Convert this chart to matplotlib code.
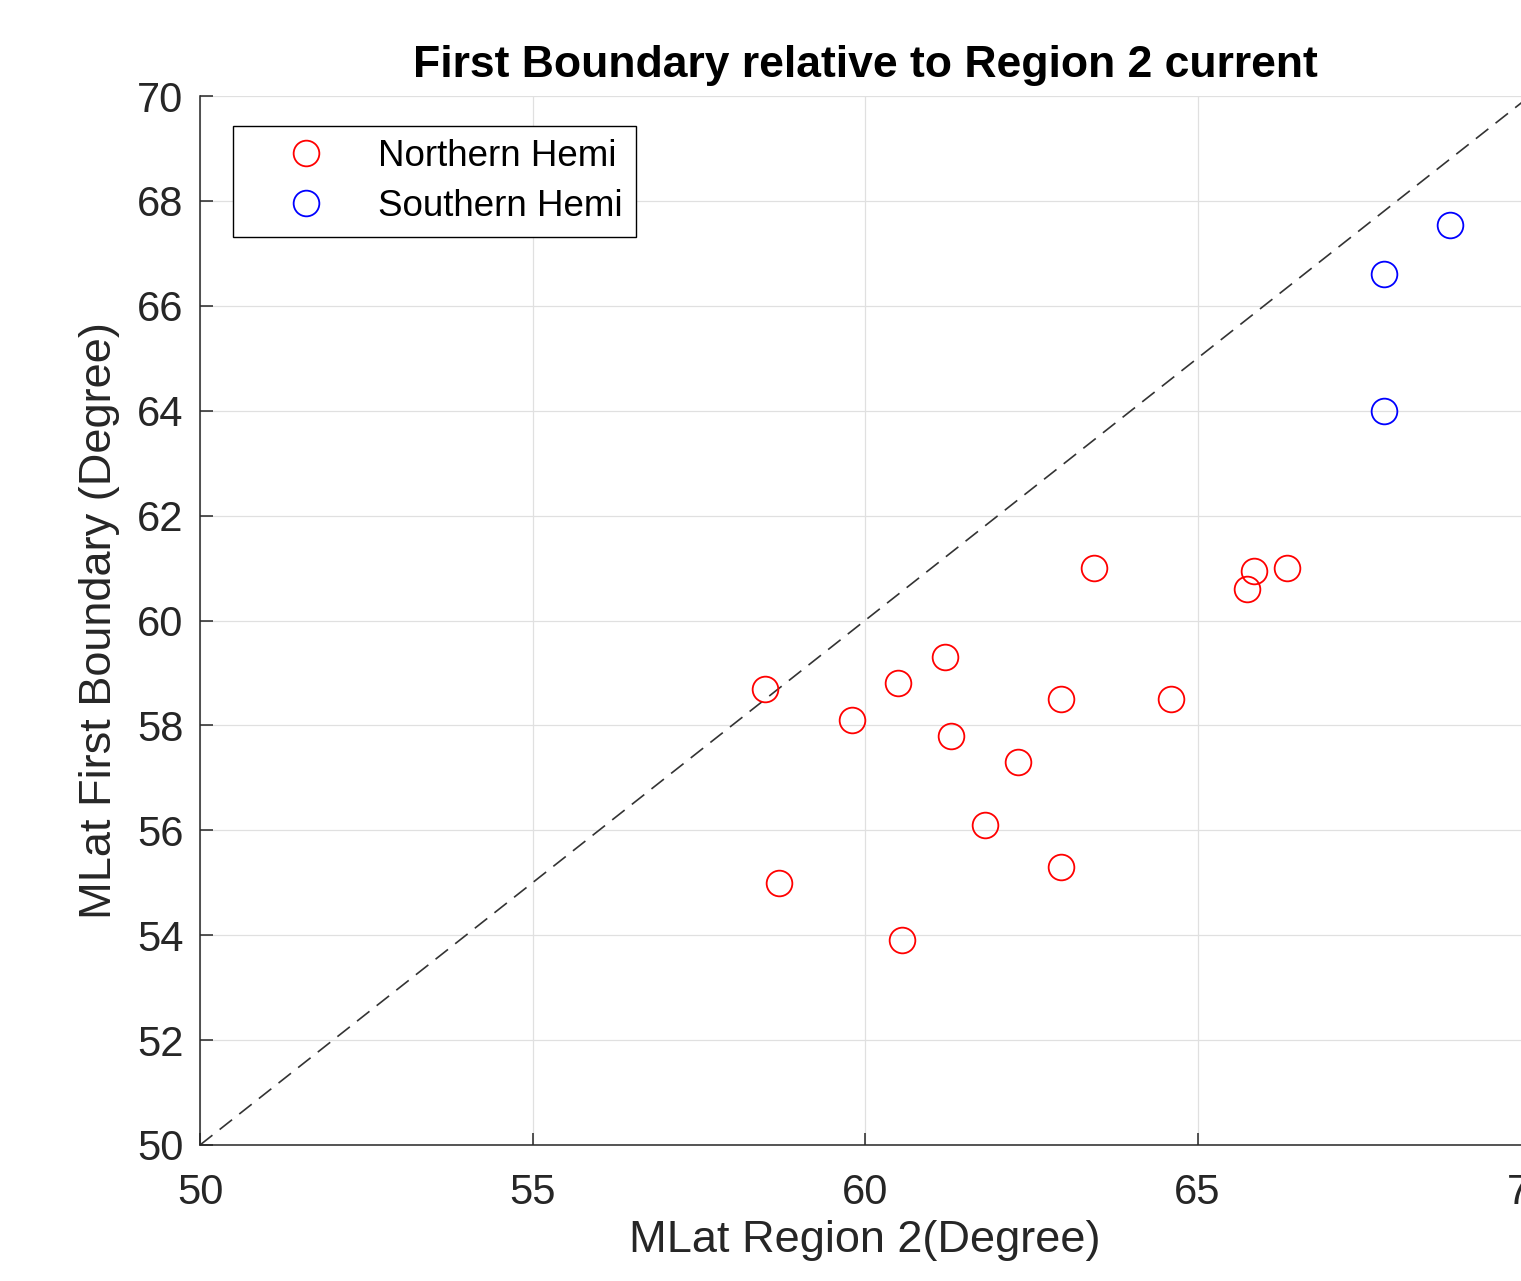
import numpy as np
import matplotlib.pyplot as plt
from matplotlib.lines import Line2D

plt.rcParams['font.family'] = ['Liberation Sans', 'DejaVu Sans']

# data
north_r2 = [58.5, 59.8, 60.5, 61.2, 61.3, 62.3, 61.8, 62.95, 62.95, 63.45,
            64.6, 65.75, 65.85, 66.35, 58.7, 60.55]
north_fb = [58.7, 58.1, 58.8, 59.3, 57.8, 57.3, 56.1, 58.5, 55.3, 61.0,
            58.5, 60.6, 60.95, 61.0, 55.0, 53.9]
south_r2 = [67.8, 67.8, 68.8]
south_fb = [66.6, 64.0, 67.55]

x_ticks = [50, 55, 60, 65, 70]
y_ticks = list(range(50, 71, 2))

AX_COL = "#262626"

fig = plt.figure(figsize=(15.21, 12.81), dpi=100, facecolor="white")
W, H = 1521, 1281
ax = fig.add_axes([200 / W, (H - 1145) / H, 1330 / W, 1049 / H])

ax.plot([50, 70], [50, 70], ls=(0, (9.5, 5.5)), color="#333333", lw=1.2, zorder=2)
ax.plot(north_r2, north_fb, ls="none", marker="o", ms=18.5, mfc="none",
        mec="red", mew=1.3, label="Northern Hemi", zorder=3)
ax.plot(south_r2, south_fb, ls="none", marker="o", ms=18.5, mfc="none",
        mec="blue", mew=1.3, label="Southern Hemi", zorder=3)

ax.set_xlim(50, 70)
ax.set_ylim(50, 70)
ax.set_xticks(x_ticks)
ax.set_yticks(y_ticks)
ax.grid(True, color="#e0e0e0", lw=0.9)
ax.set_axisbelow(True)

for s in ["top", "right"]:
    ax.spines[s].set_visible(False)
for s in ["left", "bottom"]:
    ax.spines[s].set_color(AX_COL)
    ax.spines[s].set_linewidth(1.1)

ax.tick_params(axis="both", direction="in", length=9, width=1.1,
               colors=AX_COL, labelsize=30)
ax.tick_params(axis="x", pad=20)
ax.tick_params(axis="y", pad=12)

ax.set_xlabel("MLat Region 2(Degree)", fontsize=32.5, color=AX_COL, labelpad=5)
ax.set_ylabel("MLat First Boundary (Degree)", fontsize=32.5, color=AX_COL, labelpad=12)
ax.set_title("First Boundary relative to Region 2 current", fontsize=32,
             fontweight="bold", color="black", pad=14)

leg = ax.legend(loc="upper left", bbox_to_anchor=(233 / W, 1 - 126 / H),
                bbox_transform=fig.transFigure, borderaxespad=0,
                fontsize=26.5, frameon=True, fancybox=False, framealpha=1,
                edgecolor="black", handlelength=3.26, handletextpad=0.33,
                borderpad=0.36, labelspacing=0.39)
leg.get_frame().set_linewidth(1.0)
for t in leg.get_texts():
    t.set_color("black")

fig.savefig("out.png", dpi=100, facecolor="white")
